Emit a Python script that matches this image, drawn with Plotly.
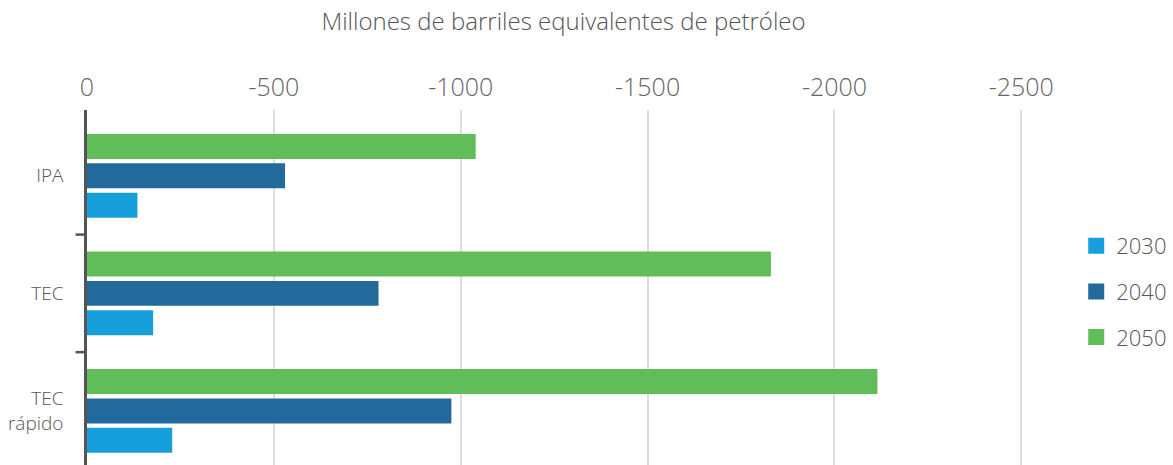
import plotly.graph_objects as go

categories = ["IPA", "TEC", "TEC<br>rápido"]
years = ["2030", "2040", "2050"]
v2030 = [-135, -177, -228]
v2040 = [-530, -780, -975]
v2050 = [-1040, -1830, -2115]
colors = {"2030": "#179fdb", "2040": "#226a9b", "2050": "#61bc5a"}
x_ticks = [0, -500, -1000, -1500, -2000, -2500]

series = {"2030": v2030, "2040": v2040, "2050": v2050}
FONT = "'Open Sans', Lato, sans-serif"

fig = go.Figure()
for yr in years:
    fig.add_trace(go.Bar(
        y=categories, x=series[yr], name=yr, orientation="h",
        marker=dict(color=colors[yr], line=dict(width=0)),
        showlegend=False,
    ))
for yr in years:
    fig.add_trace(go.Scatter(
        x=[None], y=[None], mode="markers", name=yr,
        marker=dict(symbol="square", size=20, color=colors[yr]),
        legendgroup=yr,
    ))

order = list(reversed(categories))
fig.update_layout(
    width=1173, height=465,
    margin=dict(l=87, r=133, t=110, b=0, autoexpand=False),
    paper_bgcolor="white", plot_bgcolor="white",
    font=dict(family=FONT, color="#555555", weight=300),
    barmode="group", bargap=0.25, bargroupgap=0.15,
    title=dict(text="Millones de barriles equivalentes de petróleo",
               x=0.5, xref="paper", xanchor="center",
               y=1 - 22 / 465, yref="container", yanchor="middle",
               font=dict(family=FONT, size=24, color="#555555", weight=300)),
    xaxis=dict(side="top", range=[0, -2550], tickvals=x_ticks,
               ticktext=[str(v) for v in x_ticks], automargin=False,
               showgrid=True, gridcolor="#dddddd", gridwidth=1.5,
               zeroline=False, showline=False, ticks="", ticklabelstandoff=8,
               tickfont=dict(family=FONT, size=25, color="#666666", weight=300)),
    yaxis=dict(type="category", categoryorder="array", categoryarray=order,
               range=[-0.46, 2.56], showgrid=False, zeroline=False,
               automargin=False,
               showline=True, linecolor="#555555", linewidth=2.5,
               ticks="", ticklabelstandoff=17,
               tickfont=dict(family=FONT, size=19, color="#555555", weight=300)),
    legend=dict(x=1.038, y=0.676, xanchor="left", yanchor="top",
                font=dict(family=FONT, size=22, color="#555555", weight=300),
                tracegroupgap=14, traceorder="grouped", itemsizing="trace"),
    showlegend=True,
)

for b in [0.5, 1.5]:
    fig.add_shape(type="line", xref="paper", yref="y",
                  x0=-0.012, x1=0, y0=b, y1=b,
                  line=dict(color="#555555", width=2.5))

fig.write_html("out.html", post_script="document.body.style.margin='0';",
               config={"displayModeBar": False})
